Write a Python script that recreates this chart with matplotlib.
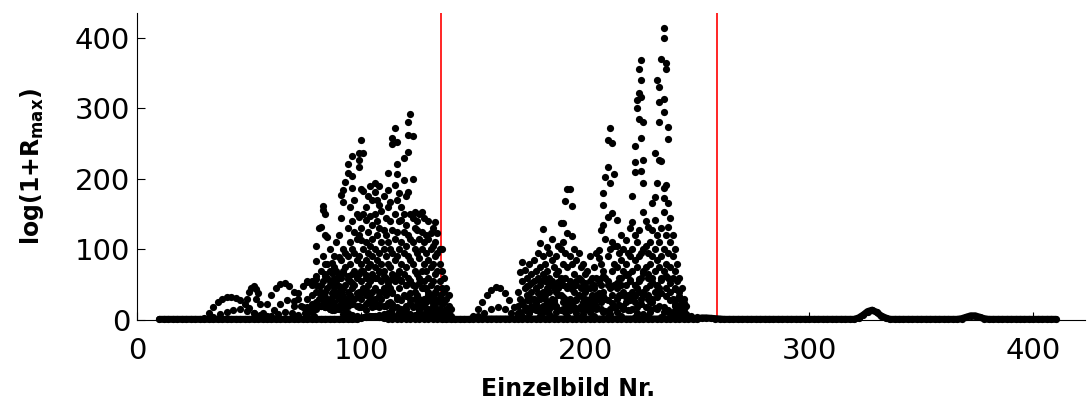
import numpy as np
import matplotlib.pyplot as plt

plt.rcParams['font.family'] = 'DejaVu Sans'
plt.rcParams['mathtext.default'] = 'bf'

# baseline readings, every second frame from 10 to 410
base_frames = list(range(10, 411, 2))
base_vals = [
    1, 1, 1, 1, 1, 1, 1, 1, 1, 1, 1, 1, 1, 1, 1,              # 10-38
    1, 1, 1, 1, 1, 1, 1, 1, 1, 1, 1, 1, 1, 1, 1,              # 40-68
    1, 1, 1, 1, 1, 1, 1, 1, 1, 1, 1, 1, 1, 1, 1,              # 70-98
    3, 4, 5, 5, 4, 3,                                         # 100-110
    2, 2, 2, 2, 2, 2, 2, 2, 2, 2, 2, 2,                       # 112-134
    1, 1, 1, 1, 1, 1, 1,                                      # 136-148
    1.5, 1.5, 1.5, 1.5, 1.5, 1.5, 1.5, 1.5, 1.5, 1.5, 1.5,    # 150-170
    1.5, 1.5, 1.5, 1.5, 1.5, 1.5, 1.5, 1.5, 1.5, 1.5,         # 172-190
    1.5, 1.5, 1.5, 1.5, 1.5, 1.5, 1.5, 1.5, 1.5, 1.5,         # 192-210
    1.5, 1.5, 1.5, 1.5, 1.5, 1.5, 1.5, 1.5, 1.5, 1.5,         # 212-230
    1.5, 1.5, 1.5, 1.5, 1.5, 1.5, 1.5, 1.5, 1.5, 1.5,         # 232-250
    3, 3, 2.5, 2, 1.5, 1,                                     # 252-262
    1, 1, 1, 1, 1, 1, 1, 1, 1, 1, 1, 1, 1, 1,                 # 264-290
    1, 1, 1, 1, 1, 1, 1, 1, 1, 1, 1, 1, 1, 1,                 # 292-318
    1, 3, 7, 12, 14, 11, 6, 3, 1,                             # 320-336
    1, 1, 1, 1, 1, 1, 1, 1, 1, 1, 1, 1, 1, 1,                 # 338-364
    1, 2, 4, 6, 6, 4, 2, 1,                                   # 366-380
    1, 1, 1, 1, 1, 1, 1, 1, 1, 1, 1, 1, 1, 1, 1,              # 382-410
]

# low arcs under the two active phases
arc_frames = [30, 32, 34, 36, 38, 40, 42, 44, 46, 48, 50, 52, 54,
              34, 37, 40, 43, 46, 49, 52, 55, 58,
              49, 50, 51, 52, 53, 54, 53, 55,
              56, 58, 60, 62, 64, 66, 68, 70, 72, 74, 76,
              58, 61, 64, 67, 70, 73, 76, 79,
              70, 72, 74, 76, 78, 80, 82, 84, 86,
              60, 63, 66, 69, 72, 75, 78, 81, 84, 87, 90, 93, 96, 99,
              102, 105, 108, 111, 114, 117, 120, 123, 126, 129, 132, 135, 138,
              150, 152, 154, 156, 158, 160, 162, 164, 166, 168, 170,
              152, 155, 158, 161, 164, 167, 170,
              172, 175, 178, 181, 184, 187, 190, 193, 196, 199, 202, 205, 208,
              211, 214, 217, 220, 223, 226, 229, 232, 235, 238, 241, 244, 247, 250,
              174, 180, 186, 192, 198, 204, 210, 216, 222, 228, 234, 240, 246]
arc_vals = [3, 10, 18, 25, 30, 33, 33, 31, 28, 23, 17, 10, 5,
            4, 8, 12, 14, 15, 13, 10, 7, 4,
            30, 40, 46, 48, 44, 38, 30, 22,
            10, 22, 35, 45, 51, 52, 48, 40, 30, 18, 8,
            6, 14, 22, 28, 27, 20, 12, 6,
            20, 38, 48, 54, 55, 50, 40, 28, 15,
            5, 9, 12, 10, 7, 10, 16, 20, 18, 14, 16, 20, 22, 18,
            14, 18, 22, 20, 15, 12, 15, 18, 14, 10, 8, 6, 4,
            5, 15, 25, 35, 43, 47, 45, 38, 28, 18, 8,
            5, 10, 16, 18, 15, 10, 5,
            6, 10, 14, 12, 8, 12, 16, 14, 10, 8, 12, 15, 12,
            8, 12, 16, 14, 10, 8, 12, 15, 12, 8, 6, 10, 6, 4,
            3, 5, 4, 6, 4, 5, 4, 6, 4, 5, 4, 3, 4]

# dense lower bands inside the active phases (every second frame)
fill1_frames = list(range(84, 137, 2))
fill1_vals = [32, 28, 36, 40, 34, 30, 26, 32, 38, 42, 36, 30, 34, 40,
              44, 38, 32, 28, 34, 38, 30, 26, 22, 28, 24, 16, 10]
fill1b_frames = list(range(80, 137, 2))
fill1b_vals = [58, 50, 62, 55, 48, 60, 66, 58, 52, 62, 70, 64, 56, 60, 68,
               62, 54, 58, 64, 56, 50, 55, 48, 52, 45, 40, 34, 28, 22]
fill1c_vals = [18, 20, 22, 24, 20, 16, 18, 22, 24, 20, 18, 22, 25, 22, 18,
               20, 24, 22, 18, 16, 20, 24, 20, 16, 18, 15, 12, 10, 8]
low1_frames = [92, 94, 96, 98, 108, 110, 112, 114, 116, 118, 120, 122,
               124, 126, 128, 130, 132, 134]
low1_vals = [8, 10, 7, 6, 7, 9, 10, 8, 6, 9, 10, 8, 7, 10, 8, 6, 9, 7]
fill2_frames = list(range(172, 245, 2))
fill2_vals = [22, 28, 30, 26, 34, 30, 24, 28, 36, 32, 26, 22, 28, 34, 30,
              24, 28, 38, 34, 28, 24, 30, 36, 32, 28, 34, 40, 36, 30, 26,
              32, 38, 34, 28, 22, 16, 10]
fill2b_frames = list(range(174, 245, 2))
fill2b_vals = [48, 52, 45, 55, 60, 50, 46, 54, 58, 48, 44, 50, 56, 52, 46,
               50, 58, 62, 55, 48, 52, 60, 64, 56, 50, 58, 66, 60, 54, 48,
               56, 62, 52, 44, 34, 24]
fill2c_frames = list(range(173, 246, 2))
fill2c_vals = [14, 16, 18, 15, 12, 16, 20, 18, 14, 12, 16, 19, 17, 13, 15,
               18, 20, 16, 13, 15, 18, 21, 17, 14, 16, 19, 22, 18, 15, 17,
               20, 18, 14, 12, 10, 8, 6]

# first active phase: values per frame
c1_frames = [76, 78, 80, 81, 82, 83, 84, 85, 86, 87, 88, 89, 90, 91, 92, 93,
             94, 95, 96, 97, 98, 99, 100, 101, 102, 103, 104, 105, 106, 107,
             108, 109, 110, 111, 112, 113, 114, 115, 116, 117, 118, 119, 120,
             121, 122, 123, 124, 125, 126, 127, 128, 129, 130, 131, 132, 133,
             134, 135, 136, 137, 138, 139, 140]
c1_vals = [
    [55, 30, 18], [50, 35, 22, 12], [105, 84, 62, 40, 25, 15], [130, 48, 30],
    [132, 70, 35, 20], [156, 162, 90, 55, 28], [150, 120, 80, 65, 40, 18],
    [118, 79, 60, 45, 25], [100, 70, 50, 30, 16], [81, 66, 52, 38, 20],
    [90, 75, 60, 42, 25, 14], [110, 70, 55, 35, 15], [89, 120, 64, 48, 30, 20],
    [177, 144, 85, 60, 40, 22], [184, 167, 100, 70, 45, 28],
    [196, 95, 75, 50, 30, 15], [221, 208, 130, 90, 62, 40, 20],
    [160, 110, 80, 55, 35], [233, 204, 187, 140, 100, 65, 45, 25],
    [170, 125, 95, 70, 50, 30], [150, 115, 85, 60, 38],
    [237, 227, 217, 146, 120, 90, 65, 40, 20], [255, 186, 130, 113, 80, 55, 30],
    [237, 183, 150, 100, 70, 45], [160, 142, 110, 85, 60, 35],
    [175, 125, 95, 75, 50, 25], [190, 148, 105, 80, 55, 30],
    [170, 135, 115, 90, 65, 40], [194, 181, 150, 100, 75, 45, 20],
    [170, 140, 120, 85, 60], [190, 163, 130, 95, 70, 40],
    [155, 110, 80, 55, 30], [175, 128, 100, 70, 45], [145, 120, 90, 60, 35],
    [208, 184, 160, 110, 80, 50], [167, 140, 100, 75, 45, 25],
    [258, 250, 128, 95, 65, 40], [272, 191, 150, 115, 85, 55],
    [252, 221, 207, 170, 125, 90, 60, 30], [180, 140, 100, 70, 45],
    [160, 142, 110, 80, 55], [230, 199, 150, 125, 95, 65, 35],
    [175, 135, 105, 75, 50], [281, 262, 238, 182, 120, 90, 60],
    [292, 150, 115, 85, 55, 30], [261, 200, 144, 110, 80, 50],
    [153, 130, 100, 70, 40], [128, 140, 95, 65, 35], [150, 115, 88, 60, 30],
    [153, 125, 100, 70, 45, 20], [145, 110, 80, 55, 30], [120, 95, 70, 45, 25],
    [140, 115, 85, 60, 35], [123, 100, 75, 50, 30], [130, 105, 80, 55, 35, 20],
    [139, 110, 90, 65, 40], [123, 95, 70, 45, 25], [100, 80, 55, 35, 15],
    [100, 70, 45, 30], [60, 40, 25, 12], [45, 30, 15], [35, 20, 8], [15, 6],
]

# second active phase: values per frame
c2_frames = list(range(170, 246))
c2_vals = [
    [40, 20, 10], [68, 30, 12], [82, 55, 25], [71, 45, 18], [60, 35, 15],
    [80, 50, 28, 12], [65, 40, 20], [85, 55, 30, 15], [70, 45, 25],
    [95, 60, 38, 18], [109, 75, 50, 30, 12], [129, 90, 65, 40, 20],
    [80, 55, 35], [104, 70, 45, 25], [95, 60, 40, 15], [115, 85, 55, 30],
    [75, 50, 25], [90, 65, 40, 20], [105, 70, 45], [138, 100, 60, 35],
    [138, 110, 80, 50, 25], [169, 95, 60, 30], [186, 123, 75, 45, 20],
    [186, 90, 55, 30], [162, 119, 80, 50], [100, 65, 40, 15], [85, 55, 30],
    [95, 60, 35], [75, 45, 20], [80, 50, 25], [65, 40, 18], [70, 45, 25],
    [90, 55, 30], [60, 35, 15], [75, 45, 25], [95, 60, 35], [88, 99, 55, 30],
    [128, 80, 50, 25], [163, 135, 180, 70, 40], [203, 115, 60, 30],
    [255, 217, 146, 90, 50], [272, 194, 100, 45], [251, 152, 110, 70, 35],
    [207, 105, 80, 50], [142, 105, 75, 45, 20], [95, 60, 35], [120, 85, 50],
    [100, 70, 40, 20], [113, 80, 50, 25], [95, 65, 35], [130, 90, 55, 30],
    [175, 139, 100, 70, 40], [246, 224, 210, 120, 85, 50, 25],
    [312, 301, 110, 75, 45], [356, 322, 285, 128, 90, 55],
    [369, 340, 316, 258, 211, 95, 60, 30], [281, 227, 194, 153, 100, 70, 40],
    [140, 105, 75, 45], [132, 95, 65, 35], [110, 80, 50, 25],
    [166, 128, 90, 60, 30], [237, 174, 142, 100, 70, 40],
    [340, 194, 120, 85, 50], [330, 309, 281, 227, 110, 75, 45],
    [370, 226, 130, 90, 60], [414, 400, 295, 313, 187, 153, 173, 100, 70],
    [364, 356, 191, 120, 80, 45], [274, 256, 166, 132, 95, 60],
    [145, 110, 75, 40], [121, 90, 60, 30], [100, 70, 45, 20], [80, 55, 30],
    [60, 40, 20], [45, 25, 10], [30, 15], [20, 8],
]

# scene cuts
cut_frames = [135.5, 259]


def expand(frames, vals):
    xs, ys = [], []
    for f, v in zip(frames, vals):
        xs += [f] * len(v)
        ys += v
    return xs, ys


c1_x, c1_y = expand(c1_frames, c1_vals)
c2_x, c2_y = expand(c2_frames, c2_vals)

fig = plt.figure(figsize=(10.91, 4.01), dpi=100)
ax = fig.add_axes([137 / 1091, 81 / 401, 948 / 1091, 307 / 401])

for c in cut_frames:
    ax.axvline(c, color='red', lw=1.2, zorder=1)

style = dict(ls='none', marker='o', ms=5.2, color='black', mec='none',
             zorder=3, clip_on=False)
# the baseline readings are so dense they merge into one thick band
ax.plot(base_frames, base_vals, '-', color='black', lw=5.0,
        solid_capstyle='round', zorder=3, clip_on=False)
ax.plot(base_frames, base_vals, **style)
ax.plot(arc_frames, arc_vals, **style)
ax.plot(fill1_frames, fill1_vals, **style)
ax.plot(fill1b_frames, fill1b_vals, **style)
ax.plot(fill1b_frames, fill1c_vals, **style)
ax.plot(low1_frames, low1_vals, **style)
ax.plot(fill2_frames, fill2_vals, **style)
ax.plot(fill2b_frames, fill2b_vals, **style)
ax.plot(fill2c_frames, fill2c_vals, **style)
ax.plot(c1_x, c1_y, **style)
ax.plot(c2_x, c2_y, **style)

ax.set_xlim(0, 423)
ax.set_ylim(0, 435)
ax.set_xticks([0, 100, 200, 300, 400])
ax.set_yticks([0, 100, 200, 300, 400])
ax.spines['top'].set_visible(False)
ax.spines['right'].set_visible(False)
ax.tick_params(direction='in', length=6, width=0.8, labelsize=21)
ax.tick_params(axis='x', pad=12)
ax.tick_params(axis='y', pad=5)

ax.set_xlabel('Einzelbild Nr.', fontsize=17, fontweight='bold')
ax.set_ylabel(r'log(1+R$_{max}$)', fontsize=17, fontweight='bold')
ax.xaxis.set_label_coords(0.455, -0.185)
ax.yaxis.set_label_coords(-0.096, 0.5)

fig.savefig('out.png', dpi=100)
